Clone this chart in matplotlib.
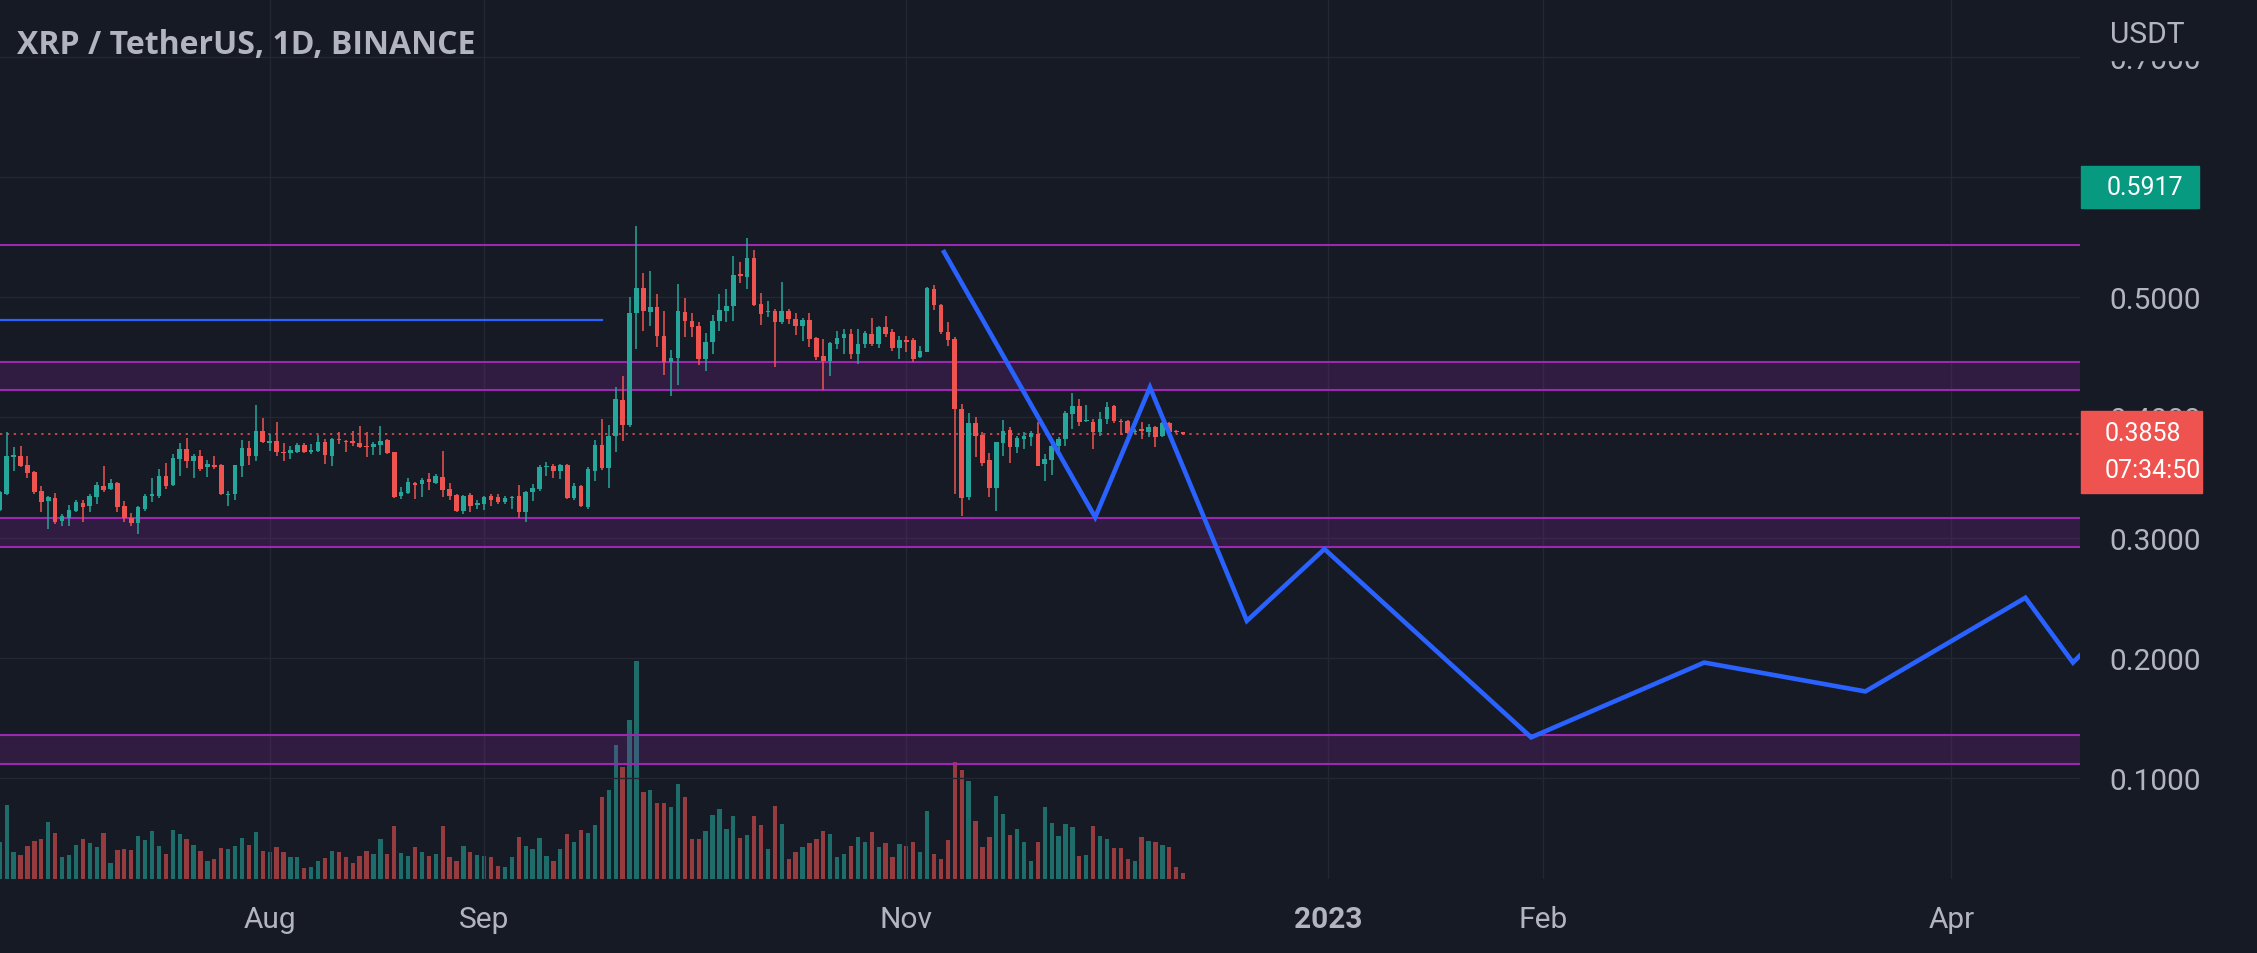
import matplotlib
matplotlib.use('Agg')
import matplotlib.pyplot as plt
import matplotlib.dates as mdates
from matplotlib.patches import Rectangle
import pandas as pd

# daily candles, XRP/USDT
dates = pd.date_range('2022-06-23', periods=172, freq='D')
opens = [.3231, .3362, .3669, .3675, .3603, .3542, .3390, .3306, .3328, .3140, .3159, .3223, .3287, .3259, .3334, .3425,
         .3403, .3453, .3265, .3160, .3120, .3240, .3343, .3342, .3514, .3436, .3653, .3736, .3639, .3675, .3583, .3603,
         .3603, .3353, .3362, .3597, .3741, .3680, .3883, .3790, .3802, .3714, .3703, .3714, .3772, .3712, .3722, .3797,
         .3675, .3822, .3805, .3805, .3786, .3758, .3750, .3769, .3810, .3708, .3342, .3370, .3453, .3445, .3486, .3453,
         .3500, .3403, .3353, .3223, .3353, .3273, .3279, .3348, .3334, .3298, .3326, .3342, .3209, .3376, .3403, .3583,
         .3592, .3556, .3603, .3326, .3430, .3251, .3556, .3770, .3575, .3847, .4143, .3938, .4864, .5075, .4872, .4914,
         .4678, .4456, .4492, .4872, .4797, .4761, .4484, .4623, .4797, .4886, .4928, .5190, .5169, .5324, .4942, .4875,
         .4886, .4789, .4886, .4817, .4761, .4808, .4659, .4512, .4470, .4609, .4659, .4692, .4526, .4609, .4692, .4609,
         .4747, .4710, .4575, .4645, .4645, .4499, .4546, .5067, .4934, .4706, .4650, .4069, .3334, .3952, .3852, .3647,
         .3409, .3786, .3897, .3750, .3820, .3833, .3861, .3612, .3647, .3764, .3820, .4027, .4097, .3967, .3963, .3880,
         .3986, .4097, .3972, .3972, .3880, .3903, .3880, .3916, .3841, .3952, .3889, .3875]
highs = [.3390, .3874, .3750, .3764, .3675, .3556, .3425, .3342, .3370, .3195, .3270, .3315, .3315, .3362, .3464, .3597,
         .3486, .3459, .3303, .3204, .3265, .3362, .3492, .3570, .3620, .3694, .3783, .3825, .3692, .3730, .3644, .3675,
         .3611, .3390, .3606, .3810, .3805, .4102, .3990, .3860, .3958, .3786, .3764, .3790, .3790, .3777, .3852, .3819,
         .3825, .3880, .3813, .3888, .3930, .3874, .3791, .3930, .3819, .3714, .3417, .3492, .3459, .3492, .3536, .3528,
         .3722, .3453, .3362, .3353, .3370, .3310, .3348, .3362, .3362, .3342, .3348, .3436, .3390, .3445, .3603, .3630,
         .3611, .3611, .3611, .3453, .3436, .3583, .3813, .3985, .3935, .4249, .4340, .4997, .5593, .5197, .5213, .5025,
         .4880, .4559, .5108, .4991, .4864, .4789, .4698, .4853, .5025, .5066, .5343, .5288, .5490, .5390, .5030, .4964,
         .4900, .5122, .4900, .4864, .4825, .4864, .4670, .4650, .4623, .4714, .4734, .4734, .4734, .4720, .4825, .4761,
         .4845, .4734, .4679, .4679, .4657, .4595, .5081, .5100, .4942, .4795, .4665, .4110, .4036, .3999, .3875, .3703,
         .3797, .3980, .3916, .3847, .3880, .3889, .3964, .3695, .3778, .3833, .4055, .4202, .4152, .4102, .3986, .4041,
         .4124, .4102, .3986, .3980, .3902, .3958, .3944, .3930, .3963, .3963, .3897, .3880]
lows = [.3220, .3353, .3556, .3583, .3492, .3362, .3215, .3071, .3112, .3098, .3098, .3215, .3132, .3209, .3278, .3376,
        .3398, .3209, .3126, .3098, .3029, .3223, .3298, .3326, .3403, .3430, .3514, .3575, .3492, .3556, .3500, .3570,
        .3353, .3259, .3315, .3500, .3603, .3639, .3786, .3722, .3675, .3639, .3653, .3700, .3700, .3694, .3714, .3611,
        .3592, .3777, .3708, .3764, .3741, .3666, .3686, .3686, .3694, .3326, .3320, .3362, .3320, .3334, .3398, .3445,
        .3334, .3315, .3215, .3195, .3215, .3237, .3231, .3259, .3278, .3278, .3237, .3160, .3132, .3306, .3390, .3514,
        .3492, .3486, .3320, .3315, .3251, .3237, .3472, .3564, .3409, .3714, .3805, .3920, .4567, .4714, .4761, .4581,
        .4354, .4179, .4271, .4670, .4664, .4437, .4382, .4526, .4720, .4789, .4803, .5113, .5066, .4928, .4770, .4831,
        .4415, .4775, .4775, .4687, .4637, .4581, .4476, .4226, .4346, .4567, .4526, .4484, .4443, .4576, .4595, .4576,
        .4670, .4548, .4485, .4546, .4462, .4490, .4540, .4895, .4692, .4595, .3362, .3176, .3315, .3667, .3598, .3334,
        .3223, .3681, .3620, .3703, .3736, .3764, .3592, .3473, .3520, .3686, .3764, .3903, .3930, .3958, .3736, .3847,
        .3944, .3952, .3853, .3861, .3861, .3819, .3833, .3750, .3833, .3861, .3869, .3850]
closes = [.3376, .3675, .3686, .3592, .3536, .3376, .3298, .3334, .3126, .3176, .3229, .3298, .3251, .3348, .3436, .3398,
          .3453, .3251, .3160, .3120, .3251, .3348, .3362, .3514, .3430, .3658, .3736, .3639, .3680, .3570, .3611, .3583,
          .3362, .3362, .3603, .3741, .3680, .3883, .3791, .3797, .3714, .3703, .3730, .3772, .3714, .3730, .3797, .3686,
          .3819, .3808, .3791, .3786, .3750, .3750, .3778, .3805, .3703, .3334, .3376, .3464, .3436, .3480, .3459, .3514,
          .3398, .3348, .3223, .3348, .3265, .3284, .3334, .3315, .3298, .3326, .3334, .3209, .3376, .3409, .3583, .3592,
          .3556, .3603, .3326, .3430, .3265, .3570, .3770, .3575, .3847, .4152, .3938, .4864, .5075, .4880, .4914, .4678,
          .4456, .4492, .4880, .4797, .4753, .4484, .4623, .4797, .4892, .4928, .5185, .5177, .5324, .4936, .4858, .4883,
          .4789, .4886, .4817, .4761, .4808, .4650, .4504, .4470, .4614, .4659, .4692, .4526, .4609, .4698, .4609, .4753,
          .4692, .4575, .4640, .4629, .4485, .4554, .5072, .4934, .4706, .4645, .4069, .3326, .3952, .3847, .3620, .3409,
          .3792, .3889, .3750, .3825, .3841, .3869, .3598, .3653, .3764, .3820, .4036, .4097, .3958, .3972, .3880, .3986,
          .4083, .3972, .3958, .3869, .3889, .3889, .3916, .3833, .3952, .3880, .3875, .3858]
# volume, millions of XRP
volumes = [330, 666, 240, 219, 300, 345, 360, 510, 411, 201, 219, 309, 363, 327, 291, 417,
           147, 264, 270, 264, 390, 354, 435, 300, 225, 441, 405, 360, 309, 249, 159, 177,
           279, 270, 300, 369, 309, 426, 255, 240, 291, 240, 195, 201, 99, 111, 165, 189,
           249, 240, 195, 141, 210, 255, 225, 363, 225, 480, 231, 210, 285, 246, 210, 225,
           480, 201, 165, 300, 240, 219, 210, 201, 120, 111, 201, 375, 300, 270, 369, 210,
           165, 270, 405, 336, 444, 411, 489, 741, 804, 1209, 1005, 1434, 1965, 780, 804, 681,
           684, 651, 855, 741, 360, 360, 429, 579, 630, 450, 570, 369, 396, 570, 486, 270,
           654, 495, 180, 246, 285, 324, 360, 435, 405, 195, 225, 300, 375, 330, 426, 285,
           321, 201, 315, 300, 330, 246, 615, 225, 180, 354, 1050, 984, 885, 525, 285, 375,
           750, 585, 396, 450, 330, 165, 336, 645, 504, 390, 495, 471, 210, 216, 480, 390,
           360, 279, 279, 180, 159, 375, 339, 336, 309, 291, 111, 54]

# drawings
zones = [(0.4227, 0.4462), (0.2920, 0.3160), (0.1120, 0.1358)]
top_line = 0.5433
blue_level = 0.481
blue_end = '2022-09-18'
path_dates = ['2022-11-06 07:00', '2022-11-28 07:00', '2022-12-06 05:00', '2022-12-20 05:00',
              '2022-12-31 10:00', '2023-01-30 07:00', '2023-02-24 07:00', '2023-03-19 14:00',
              '2023-04-11 17:00', '2023-04-18 14:00', '2023-04-22 00:00']
path_prices = [0.539, 0.3168, 0.4249, 0.2307, 0.2904, 0.1338, 0.196, 0.172, 0.2499, 0.196, 0.2155]
last_price = 0.3858
countdown = '07:34:50'
marker_price = 0.5917

tick_dates = ['2022-08-01', '2022-09-01', '2022-11-01', '2023-01-01', '2023-02-01', '2023-04-01']
tick_names = ['Aug', 'Sep', 'Nov', '2023', 'Feb', 'Apr']
price_ticks = [0.1, 0.2, 0.3, 0.4, 0.5, 0.6, 0.7]

bg = '#161a25'
up = '#26a69a'
down = '#ef5350'
txt = '#b2b5be'
purple = '#9c27b0'
blue = '#2962ff'
W, H = 2257, 954

fig = plt.figure(figsize=(W / 100, H / 100), dpi=100, facecolor=bg)
rect = [0, 74 / H, 2080 / W, 880 / H]
ax = fig.add_axes(rect)
axv = ax.twinx()
axv.set_zorder(ax.get_zorder() - 1)
axv.set_facecolor(bg)
ax.patch.set_visible(False)

x = mdates.date2num(dates)
cols = [up if c >= o else down for o, c in zip(opens, closes)]

# volume
axv.bar(x, volumes, width=0.62, color=cols, alpha=0.6, lw=0)
axv.set_ylim(0, 7930)
axv.set_yticks([])
for s in axv.spines.values():
    s.set_visible(False)

# zones and lines
for lo, hi in zones:
    ax.axhspan(lo, hi, color=purple, alpha=0.2, lw=0, zorder=1)
    ax.axhline(lo, color=purple, lw=1.5, zorder=2)
    ax.axhline(hi, color=purple, lw=1.5, zorder=2)
ax.axhline(top_line, color=purple, lw=1.5, zorder=2)

x0 = mdates.date2num(pd.Timestamp('2022-06-24')) - 0.968
x1 = mdates.date2num(pd.Timestamp('2022-06-24')) + 299.6
ax.plot([x0, mdates.date2num(pd.Timestamp(blue_end))], [blue_level, blue_level], color=blue, lw=1.6, zorder=3)
ax.axhline(last_price, color=down, lw=1.1, ls=(0, (1.5, 3)), zorder=2)

# candles
ax.vlines(x, lows, highs, colors=cols, lw=1.1, zorder=4)
bodies = [max(abs(c - o), 0.0009) for o, c in zip(opens, closes)]
ax.bar(x, bodies, width=0.66, bottom=[min(o, c) for o, c in zip(opens, closes)], color=cols, lw=0, zorder=5)

# projection path
ax.plot(mdates.date2num(pd.to_datetime(path_dates)), path_prices, color=blue, lw=3.3,
        solid_joinstyle='miter', solid_capstyle='butt', zorder=6)

ax.set_xlim(x0, x1)
ax.set_ylim(0.01601, 0.74782)
ax.set_xticks(mdates.date2num(pd.to_datetime(tick_dates)))
ax.set_xticklabels(tick_names)
ax.set_yticks(price_ticks)
ax.set_yticklabels([f'{p:.4f}' for p in price_ticks])
ax.yaxis.tick_right()
ax.tick_params(axis='y', length=0, pad=21.5, labelsize=21.5, labelcolor=txt)
ax.tick_params(axis='x', length=0, pad=19, labelsize=21.5, labelcolor=txt)
for lab in ax.get_xticklabels() + ax.get_yticklabels():
    lab.set_fontfamily('Roboto')
ax.get_xticklabels()[3].set_fontweight('bold')
ax.grid(True, color='#232633', lw=1)
ax.set_axisbelow(True)
for s in ax.spines.values():
    s.set_visible(False)


def fx(px):
    return px / W


def fy(py):
    return 1 - py / H


# price scale labels
fig.add_artist(Rectangle((fx(2081), fy(61)), fx(176), 61 / H, transform=fig.transFigure, color=bg, zorder=2))
fig.text(fx(2110), fy(35), 'USDT', color=txt, fontsize=21.5, family='Roboto', va='center', ha='left')

fig.add_artist(Rectangle((fx(2081), fy(209)), fx(118), 42 / H, transform=fig.transFigure, color='#089981', zorder=2))
fig.text(fx(2107), fy(188), f'{marker_price:.4f}', color='white', fontsize=18, family='Roboto', va='center')

fig.add_artist(Rectangle((fx(2081), fy(494)), fx(121), 82 / H, transform=fig.transFigure, color=down, zorder=2))
fig.text(fx(2105), fy(434), f'{last_price:.4f}', color='white', fontsize=18, family='Roboto', va='center')
fig.text(fx(2105), fy(471), countdown, color='white', fontsize=18, family='Roboto', va='center')

fig.text(fx(17), fy(45), 'XRP / TetherUS, 1D, BINANCE', color=txt, fontsize=23, family='Open Sans',
         weight='bold', va='center', ha='left')

fig.savefig('out.png', dpi=100, facecolor=bg)
